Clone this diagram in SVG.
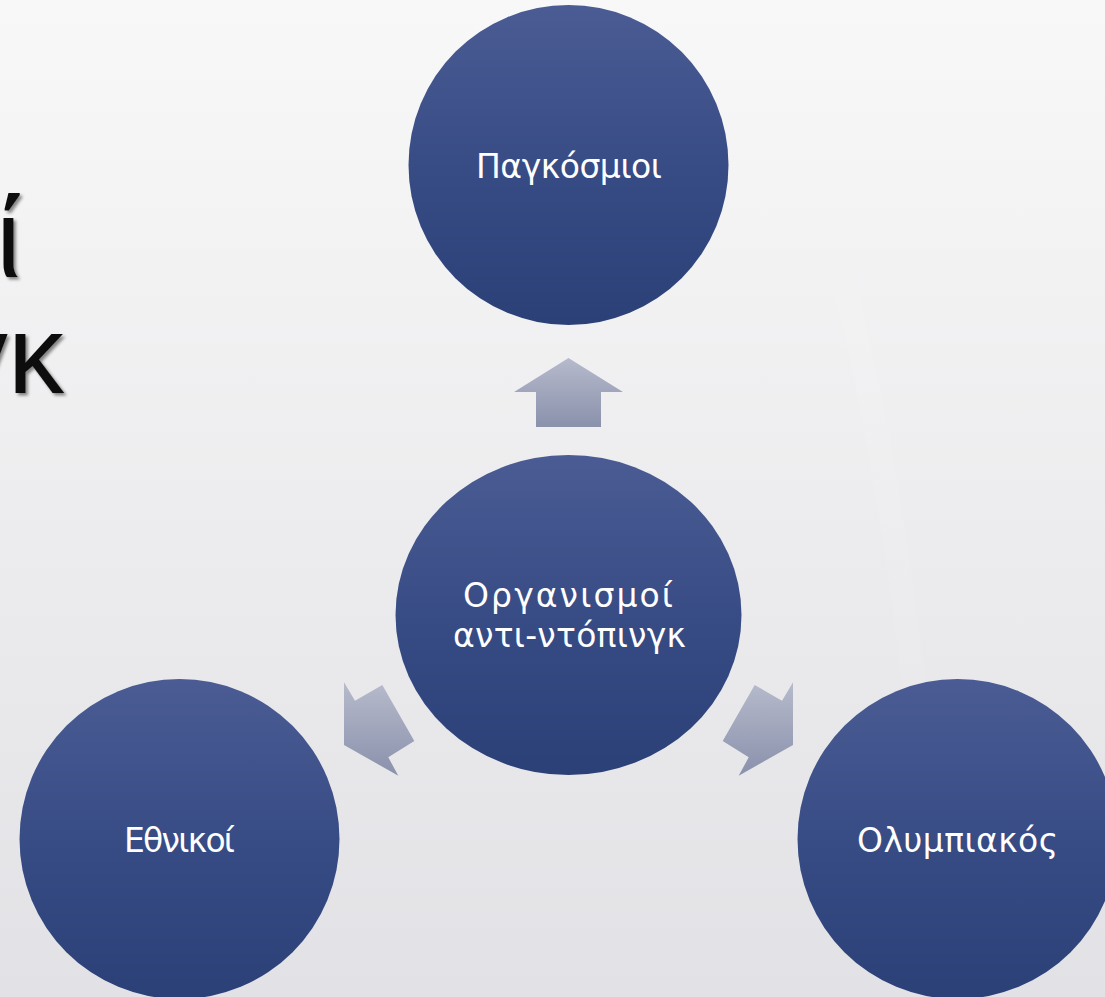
<svg xmlns="http://www.w3.org/2000/svg" width="1105" height="997" viewBox="0 0 1105 997">
  <defs>
    <linearGradient id="bg" x1="0" y1="0" x2="0" y2="1">
      <stop offset="0" stop-color="#F8F8F8"/>
      <stop offset="1" stop-color="#E2E2E6"/>
    </linearGradient>
    <linearGradient id="nodeFill" x1="0" y1="0" x2="0" y2="1">
      <stop offset="0" stop-color="#4B5C94"/>
      <stop offset="0.55" stop-color="#364A83"/>
      <stop offset="1" stop-color="#2C4078"/>
    </linearGradient>
    <linearGradient id="arrowFill" x1="0" y1="0" x2="0" y2="1">
      <stop offset="0" stop-color="#B6BACC"/>
      <stop offset="1" stop-color="#8A91AB"/>
    </linearGradient>
    <filter id="shadow" x="-20%" y="-20%" width="140%" height="140%">
      <feDropShadow dx="2.5" dy="2.5" stdDeviation="1.6" flood-color="#000" flood-opacity="0.45"/>
    </filter>
  </defs>
  <style>
    .node { fill: url(#nodeFill); }
    .arrow { fill: url(#arrowFill); }
    .label { font-family: "DejaVu Sans", "Liberation Sans", sans-serif; font-size: 33px; fill: #FFFFFF; text-anchor: middle; }
    .title { font-family: "Liberation Sans", "DejaVu Sans", sans-serif; font-size: 112px; fill: #111111; filter: url(#shadow); }
  </style>

  <rect x="0" y="0" width="1105" height="997" fill="url(#bg)"/>
  <g id="bg-streaks" fill="none" stroke="#FFFFFF" stroke-opacity="0.07" stroke-width="24">
    <path d="M 740 0 Q 900 300 940 997"/>
  </g>

  <g id="title">
    <text class="title" x="-4" y="277">ί</text>
    <text class="title" x="64" y="393" text-anchor="end">γκ</text>
  </g>

  <g id="connectors">
    <polygon class="arrow" points="568.5,358 514,392 536,392 536,427 601,427 601,392 623,392"/>
    <polygon class="arrow" points="344,682.3 355,700.7 382.3,685 414.3,741 388.3,757.3 398.3,775.7 344,745"/>
    <polygon class="arrow" points="793,682.3 782,700.7 754.7,685 722.7,741 748.7,757.3 738.7,775.7 793,745"/>
  </g>

  <g id="node-top">
    <circle class="node" cx="568.5" cy="165" r="160"/>
    <text class="label" x="569" y="178" textLength="186">Παγκόσμιοι</text>
  </g>

  <g id="node-center">
    <ellipse class="node" cx="568.5" cy="615" rx="173" ry="160"/>
    <text class="label" x="568" y="607" textLength="210">Οργανισμοί</text>
    <text class="label" x="569.5" y="647" textLength="233">αντι-ντόπινγκ</text>
  </g>

  <g id="node-left">
    <circle class="node" cx="179.5" cy="839" r="160"/>
    <text class="label" x="179.5" y="852" textLength="111">Εθνικοί</text>
  </g>

  <g id="node-right">
    <circle class="node" cx="957.5" cy="839" r="160"/>
    <text class="label" x="957.5" y="852" textLength="201">Ολυμπιακός</text>
  </g>
</svg>
